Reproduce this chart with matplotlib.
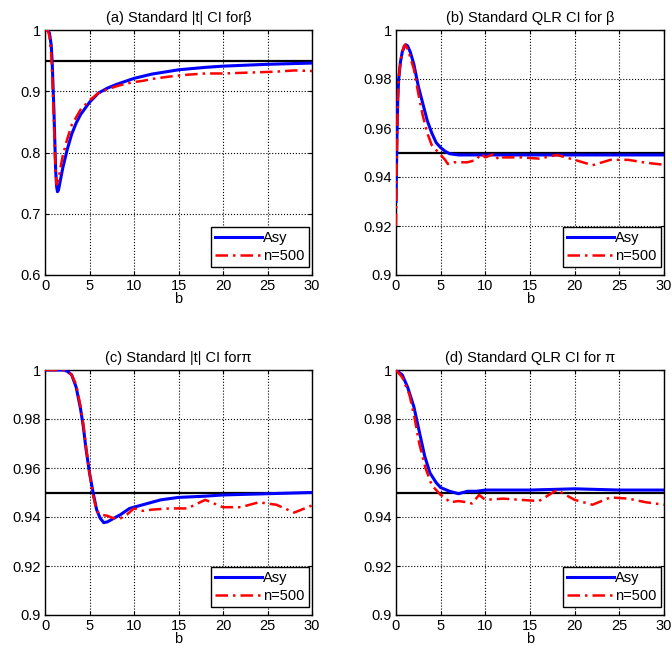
import matplotlib
matplotlib.use("Agg")
import matplotlib.pyplot as plt

plt.rcParams['font.family'] = ['Liberation Sans', 'DejaVu Sans']
plt.rcParams['font.size'] = 10.5

# (a) standard |t| CI for beta
a_asy_b = [0, 0.3, 0.5, 0.7, 0.8, 0.9, 1.0, 1.1, 1.2, 1.3, 1.4, 1.5, 1.6, 1.8, 2.0, 2.5, 3, 3.5, 4, 5, 6, 7, 8, 9, 10, 12, 15, 18, 20, 25, 30]
a_asy = [1.0, 1.0, 0.995, 0.975, 0.95, 0.91, 0.87, 0.82, 0.77, 0.745, 0.736, 0.738, 0.745, 0.76, 0.775, 0.805, 0.83, 0.848, 0.862, 0.882, 0.897, 0.905, 0.911, 0.916, 0.921, 0.928, 0.935, 0.939, 0.941, 0.944, 0.946]
a_n500_b = [0, 0.3, 0.5, 0.7, 0.8, 0.9, 1.0, 1.1, 1.2, 1.3, 1.5, 1.8, 2.0, 2.5, 3, 4, 5, 6, 7, 8, 9, 10, 11, 12, 14, 16, 18, 20, 22, 24, 26, 28, 30]
a_n500 = [1.0, 1.0, 0.99, 0.96, 0.93, 0.89, 0.85, 0.8, 0.77, 0.748, 0.755, 0.78, 0.795, 0.822, 0.845, 0.87, 0.885, 0.897, 0.903, 0.908, 0.912, 0.915, 0.917, 0.92, 0.924, 0.927, 0.929, 0.929, 0.93, 0.931, 0.932, 0.934, 0.933]

# (b) standard QLR CI for beta
b_asy_b = [0, 0.1, 0.2, 0.3, 0.5, 0.7, 0.9, 1.1, 1.3, 1.6, 2.0, 2.5, 3.0, 3.5, 4.0, 4.5, 5.0, 5.5, 6.0, 7, 10, 15, 20, 25, 30]
b_asy = [0.93, 0.955, 0.972, 0.98, 0.987, 0.991, 0.993, 0.994, 0.9935, 0.991, 0.986, 0.977, 0.970, 0.963, 0.958, 0.954, 0.952, 0.9505, 0.9495, 0.949, 0.949, 0.949, 0.949, 0.949, 0.949]
b_n500_b = [0, 0.1, 0.2, 0.3, 0.5, 0.7, 0.9, 1.0, 1.2, 1.5, 2.0, 2.5, 3.0, 3.5, 4.0, 4.5, 5.0, 5.5, 5.8, 6.5, 7, 8, 9, 9.5, 10, 11, 11.5, 12, 14, 16, 18, 20, 22, 24, 26, 28, 30]
b_n500 = [0.92, 0.95, 0.97, 0.98, 0.987, 0.991, 0.9935, 0.994, 0.993, 0.99, 0.984, 0.974, 0.965, 0.958, 0.953, 0.951, 0.949, 0.947, 0.9453, 0.946, 0.946, 0.946, 0.947, 0.9495, 0.948, 0.9495, 0.947, 0.948, 0.948, 0.9475, 0.949, 0.947, 0.9448, 0.947, 0.947, 0.9458, 0.945]

# (c) standard |t| CI for pi
c_asy_b = [0, 1, 2, 2.5, 3.0, 3.5, 4.0, 4.3, 4.6, 5.0, 5.4, 5.8, 6.2, 6.6, 7.0, 7.5, 8.5, 9.5, 11, 13, 15, 18, 20, 25, 30]
c_asy = [1.0, 1.0, 1.0, 0.9995, 0.998, 0.993, 0.984, 0.977, 0.968, 0.958, 0.95, 0.943, 0.9395, 0.9377, 0.938, 0.939, 0.941, 0.9435, 0.945, 0.947, 0.948, 0.9485, 0.949, 0.9495, 0.95]
c_n500_b = [0, 1, 2, 2.5, 3.0, 3.5, 4.0, 4.3, 4.6, 5.0, 5.4, 5.8, 6.2, 7.0, 7.7, 8.5, 9.2, 10, 11, 12, 14, 16, 18, 20, 22, 24, 26, 28, 30]
c_n500 = [1.0, 1.0, 1.0, 0.9995, 0.998, 0.994, 0.985, 0.978, 0.969, 0.958, 0.949, 0.9425, 0.941, 0.9405, 0.9395, 0.9395, 0.941, 0.9435, 0.9425, 0.943, 0.9435, 0.9435, 0.947, 0.944, 0.944, 0.946, 0.945, 0.9418, 0.9447]

# (d) standard QLR CI for pi
d_asy_b = [0, 0.7, 1.3, 2.0, 2.6, 3.2, 3.8, 4.5, 5.0, 6.0, 7.0, 8.0, 9.0, 10, 15, 20, 25, 30]
d_asy = [1.0, 0.998, 0.993, 0.985, 0.975, 0.965, 0.958, 0.954, 0.952, 0.9505, 0.9495, 0.9505, 0.9505, 0.951, 0.951, 0.9515, 0.951, 0.951]
d_n500_b = [0, 0.7, 1.5, 2.1, 2.6, 3.3, 4.0, 5.0, 5.5, 6.0, 7.0, 8.0, 8.5, 9.3, 10, 12, 14, 16, 18, 20, 22, 24, 26, 28, 30]
d_n500 = [1.0, 0.997, 0.99, 0.98, 0.97, 0.96, 0.953, 0.949, 0.948, 0.946, 0.9465, 0.946, 0.9455, 0.949, 0.947, 0.9475, 0.947, 0.9465, 0.951, 0.947, 0.945, 0.948, 0.9475, 0.946, 0.945]

nominal = 0.95

fine_ticks = [0.9, 0.92, 0.94, 0.96, 0.98, 1.0]
fine_labels = ["0.9", "0.92", "0.94", "0.96", "0.98", "1"]

panels = [
    ("(a) Standard |t| CI for\u03b2", a_asy_b, a_asy, a_n500_b, a_n500, (0.6, 1.0), [0.6, 0.7, 0.8, 0.9, 1.0], ["0.6", "0.7", "0.8", "0.9", "1"]),
    ("(b) Standard QLR CI for \u03b2", b_asy_b, b_asy, b_n500_b, b_n500, (0.9, 1.0), fine_ticks, fine_labels),
    ("(c) Standard |t| CI for\u03c0", c_asy_b, c_asy, c_n500_b, c_n500, (0.9, 1.0), fine_ticks, fine_labels),
    ("(d) Standard QLR CI for \u03c0", d_asy_b, d_asy, d_n500_b, d_n500, (0.9, 1.0), fine_ticks, fine_labels),
]

rects = [
    [45 / 672, 380 / 655, 267 / 672, 245 / 655],
    [396 / 672, 380 / 655, 268 / 672, 245 / 655],
    [45 / 672, 40 / 655, 267 / 672, 245 / 655],
    [396 / 672, 40 / 655, 268 / 672, 245 / 655],
]

fig = plt.figure(figsize=(6.72, 6.55), dpi=100)

for rect, (title, xa, ya, xn, yn, ylim, yt, ytl) in zip(rects, panels):
    ax = fig.add_axes(rect)
    ax.axhline(nominal, color='black', lw=1.6, zorder=1)
    ax.plot(xa, ya, color='#0000ff', lw=2.2, label='Asy', zorder=3)
    ax.plot(xn, yn, color='#ff0000', lw=1.8, dashes=(5, 2, 1, 2), label='n=500', zorder=4)
    ax.set_xlim(0, 30)
    ax.set_ylim(*ylim)
    ax.set_xticks([0, 5, 10, 15, 20, 25, 30])
    ax.set_yticks(yt)
    ax.set_yticklabels(ytl)
    ax.grid(True, color='black', ls=':', lw=0.8)
    ax.tick_params(direction='in', top=True, right=True, length=3, labelsize=10.5, pad=3)
    for s in ax.spines.values():
        s.set_linewidth(1.0)
    ax.set_title(title, fontsize=10.5, pad=6)
    ax.set_xlabel('b', fontsize=10.5, labelpad=-1)
    leg = ax.legend(loc='lower right', bbox_to_anchor=(1 - 3 / 267, 8 / 245),
                    borderaxespad=0, fontsize=10.5, fancybox=False, framealpha=1,
                    edgecolor='black', handlelength=3.2, borderpad=0.3,
                    handletextpad=0.1, labelspacing=0.25)
    leg.get_frame().set_linewidth(1.0)

fig.savefig('out.png', dpi=100)
